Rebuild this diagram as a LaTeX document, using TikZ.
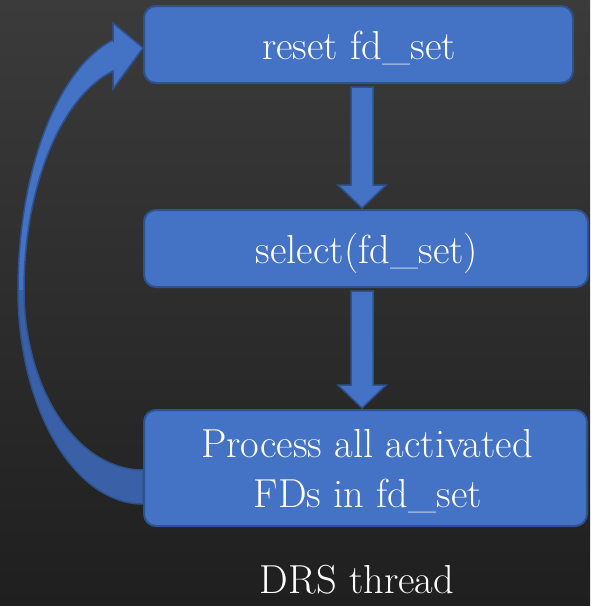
\documentclass[tikz,border=0pt]{standalone}
\usetikzlibrary{calc}
\definecolor{boxfill}{HTML}{4472C4}
\definecolor{boxline}{HTML}{2F528F}
\definecolor{bandshade}{HTML}{3A61A7}
\definecolor{bgtop}{HTML}{3B3B3B}
\definecolor{bgbot}{HTML}{1F1F1F}

% straight block arrow from the bottom of one box to the top of the next
\newcommand\blockdown[2]{%
  \path (ax |- #1.south) ++(0,3) coordinate (#1-out);
  \path (ax |- #2.north) ++(0,-1) coordinate (#2-in);
  \draw[blockarrow] ($(#1-out)+(-11,0)$) -- ($(#1-out)+(11,0)$)
    -- ($(#2-in)+(11,-23)$) -- ($(#2-in)+(24,-23)$) -- (#2-in)
    -- ($(#2-in)+(-24,-23)$) -- ($(#2-in)+(-11,-23)$) -- cycle;}

\begin{document}
\begin{tikzpicture}[x=1pt,y=-1pt,
  stepbox/.style={draw=boxline, line width=2pt, fill=boxfill,
    rounded corners=12pt, inner sep=0pt},
  lbl/.style={text=white, font=\fontsize{40.5}{50}\selectfont,
    inner sep=0pt, anchor=base},
  blockarrow/.style={draw=boxline, line width=1.5pt, fill=boxfill,
    line join=miter},
  bandedge/.style={draw=boxline, line width=1.5pt, line join=miter}]

% backdrop
\path[use as bounding box, top color=bgtop, bottom color=bgbot]
  (0,0) rectangle (590,606);

% loop-back arrow on the left: two half-ellipse bands around (143,290)
\coordinate (tip) at (143,48);
\fill[boxfill] (tip) -- (113,23) -- (113,40)
  -- plot[domain=256.1:180, samples=60] ({143+125*cos(\x)}, {290+257.6*sin(\x)})
  -- plot[domain=180:255.4, samples=60] ({143+119*cos(\x)}, {290+226.3*sin(\x)})
  -- (113,89) -- cycle;
\fill[bandshade] (18,290)
  -- plot[domain=180:90, samples=60] ({143+125*cos(\x)}, {290+214*sin(\x)})
  -- (143,470)
  -- plot[domain=90:180, samples=60] ({143+119*cos(\x)}, {290+180*sin(\x)})
  -- cycle;
\draw[bandedge] (tip) -- (113,23) -- (113,40)
  -- plot[domain=256.1:180, samples=60] ({143+125*cos(\x)}, {290+257.6*sin(\x)})
  -- plot[domain=180:90, samples=60] ({143+125*cos(\x)}, {290+214*sin(\x)})
  -- (143,470)
  -- plot[domain=90:180, samples=60] ({143+119*cos(\x)}, {290+180*sin(\x)})
  -- plot[domain=180:255.4, samples=60] ({143+119*cos(\x)}, {290+226.3*sin(\x)})
  -- (113,89) -- cycle;

% process boxes
\node[stepbox, minimum width=429pt, minimum height=77pt] (reset) at (358.5,44.5) {};
\node[stepbox, minimum width=444pt, minimum height=77pt] (select) at (366,248.5) {};
\node[stepbox, minimum width=443pt, minimum height=116pt] (process) at (365.5,468) {};

% labels
\node[lbl] (resetlbl) at (359,59) {reset fd\_set};
\node[lbl] (selectlbl) at (367,263) {select(fd\_set)};
\node[lbl] (processlbla) at (367,457) {Process all activated};
\node[lbl] (processlblb) at (368,507) {FDs in fd\_set};
\node[lbl] (caption) at (357,593) {DRS thread};

% downward block arrows
\coordinate (ax) at (362,0);
\blockdown{reset}{select}
\blockdown{select}{process}
\end{tikzpicture}
\end{document}
